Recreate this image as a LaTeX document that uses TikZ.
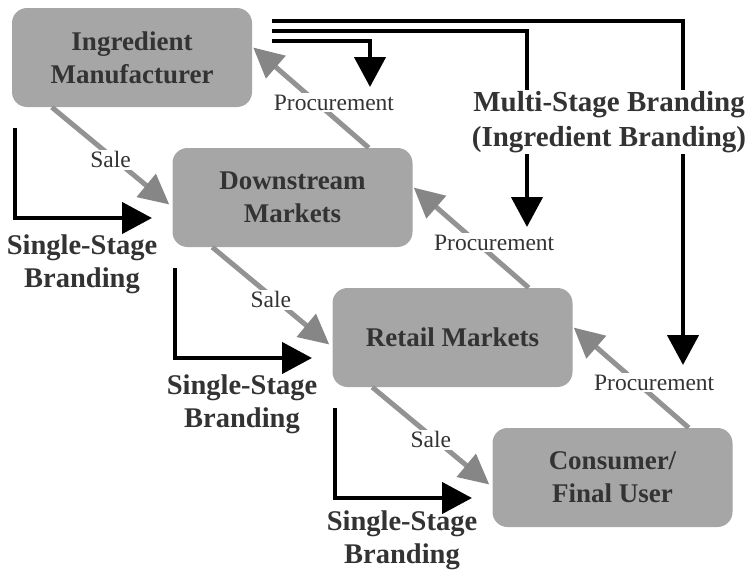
\documentclass[tikz,border=0pt]{standalone}
\usepackage{fontspec}
\setmainfont{Liberation Serif}
\usepackage{xcolor}
\usetikzlibrary{arrows.meta}

\definecolor{boxgray}{HTML}{A6A6A6}
\definecolor{txtgray}{HTML}{333333}
\definecolor{flowgray}{HTML}{939393}
\definecolor{headgray}{HTML}{868686}

\begin{document}
\begin{tikzpicture}[x=1pt, y=-1pt,
  stage/.style={fill=boxgray, rounded corners=15pt, minimum width=240pt, minimum height=99pt, align=center, text=txtgray, font=\fontsize{27}{33}\selectfont\bfseries},
  flow/.style={draw=flowgray, line width=5pt, -{Triangle[length=30pt,width=29pt,color=headgray]}},
  flowlbl/.style={fill=white, inner sep=2pt, text=txtgray, font=\fontsize{23.5}{28}\selectfont},
  brand/.style={line width=4.5pt, -{Triangle[length=30pt,width=31pt]}},
  brandlbl/.style={align=center, text=txtgray, font=\fontsize{28.5}{33}\selectfont\bfseries}]
\useasboundingbox (0,0) rectangle (748,570);

% Stages of the value chain
\node[stage] (im) at (132,57.5) {Ingredient\\Manufacturer};
\node[stage] (dm) at (292.5,197.5) {Downstream\\Markets};
\node[stage] (rm) at (452.5,337.5) {Retail Markets};
\node[stage] (cu) at (612.5,477.5) {Consumer/\\Final User};

% Sale arrows (down the chain)
\draw[flow] ([xshift=40pt]im.south west) -- ([xshift=-3pt,yshift=-7pt]dm.west) node[flowlbl, pos=0.5, yshift=-4pt] {Sale};
\draw[flow] ([xshift=40pt]dm.south west) -- ([xshift=-3pt,yshift=-7pt]rm.west) node[flowlbl, pos=0.5, yshift=-4pt] {Sale};
\draw[flow] ([xshift=40pt]rm.south west) -- ([xshift=-3pt,yshift=-7pt]cu.west) node[flowlbl, pos=0.5, yshift=-4pt] {Sale};

% Procurement arrows (up the chain)
\draw[flow] ([xshift=-44pt]dm.north east) -- ([xshift=1pt,yshift=10pt]im.east) node[flowlbl, pos=0.5, xshift=23pt, yshift=-5pt] {Procurement};
\draw[flow] ([xshift=-44pt]rm.north east) -- ([xshift=1pt,yshift=10pt]dm.east) node[flowlbl, pos=0.5, xshift=23pt, yshift=-5pt] {Procurement};
\draw[flow] ([xshift=-44pt]cu.north east) -- ([xshift=1pt,yshift=10pt]rm.east) node[flowlbl, pos=0.5, xshift=23pt, yshift=-5pt] {Procurement};

% Multi-stage branding
\coordinate (ms1) at (272,41);
\coordinate (ms2) at (272,31);
\coordinate (ms3) at (272,21);
\coordinate (mt1) at (370,87);
\coordinate (mt2) at (527,227);
\coordinate (mt3) at (683,365);
\draw[brand] (ms1) -| (mt1);
\draw[brand] (ms2) -| (mt2);
\draw[brand] (ms3) -| (mt3);
\node[brandlbl, fill=white, inner sep=1pt, font=\fontsize{29}{35}\selectfont\bfseries] (msb) at (609,122) {Multi-Stage Branding\\(Ingredient Branding)};

% Single-stage branding
\coordinate (ss1) at (15,128);
\coordinate (st1) at (152,218);
\coordinate (ss2) at (175,268);
\coordinate (st2) at (312,358);
\coordinate (ss3) at (335,408);
\coordinate (st3) at (472,498);
\draw[brand] (ss1) |- (st1);
\draw[brand] (ss2) |- (st2);
\draw[brand] (ss3) |- (st3);
\node[brandlbl] (ssb1) at (82,264) {Single-Stage\\Branding};
\node[brandlbl] (ssb2) at (242,404) {Single-Stage\\Branding};
\node[brandlbl] (ssb3) at (402,540) {Single-Stage\\Branding};

\end{tikzpicture}
\end{document}
